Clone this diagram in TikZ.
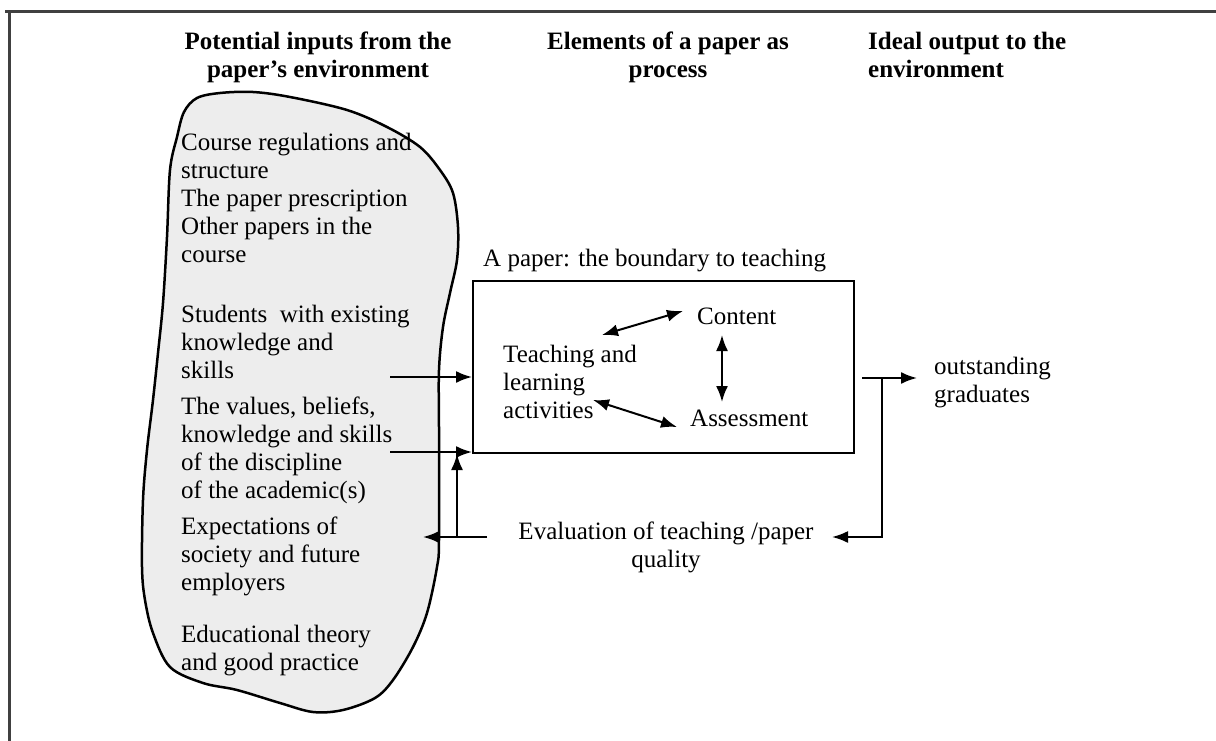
\documentclass[tikz,border=0pt]{standalone}
\usepackage{fontspec}
\setmainfont{Liberation Serif}
\usetikzlibrary{arrows.meta}
\begin{document}
\begin{tikzpicture}[x=1pt,y=-1pt,
  txt/.style={inner sep=0pt, font=\fontsize{25}{28}\selectfont, align=left, anchor=north west},
  head/.style={inner sep=0pt, font=\fontsize{25}{28}\selectfont\bfseries, anchor=north},
  link/.style={line width=2pt, -{Latex[length=16pt,width=12pt]}},
  both/.style={line width=2pt, {Latex[length=16pt,width=12pt]}-{Latex[length=16pt,width=12pt]}},
]
\useasboundingbox (0,0) rectangle (1216,741);

% frame lines
\draw[line width=3pt, black!75] (5,12) -- (1216,12);
\draw[line width=3pt, black!75] (9,12) -- (9,741);

% the environment cloud
\draw[line width=2.5pt, fill=black!7, line join=round] plot[smooth cycle, tension=0.55] coordinates {
  (253,92) (290,97) (347,110) (387,127) (420,147) (440,170) (453,193) (458,227)
  (457,260) (450,293) (443,327) (439,370) (439,430) (439,540) (437,567) (427,613)
  (413,647) (393,680) (375,698) (343,710) (313,712) (280,703) (237,690) (203,683)
  (170,667) (153,633) (145,600) (142,567) (143,500) (147,450) (153,400) (158,353)
  (163,303) (167,237) (170,170) (177,137) (184,112) (197,98) (220,93)};

% column headings
\node[head, align=center] (hin) at (318,32) {Potential inputs from the\\paper’s environment};
\node[head, align=center] (hproc) at (668,32) {Elements of a paper as\\process};
\node[head, align=left, anchor=north west] (hout) at (868,32) {Ideal output to the\\environment};

% inputs
\node[txt] (g1) at (181,133) {Course regulations and\\structure\\The paper prescription\\Other papers in the\\course};
\node[txt] (g2) at (181,305) {Students\ \ with existing\\knowledge and\\skills};
\node[txt] (g3) at (181,397) {The values, beliefs,\\knowledge and skills\\of the discipline\\of the academic(s)};
\node[txt] (g4) at (181,517) {Expectations of\\society and future\\employers};
\node[txt] (g5) at (181,625) {Educational theory\\and good practice};

% the paper
\node[draw, line width=2pt, minimum width=381pt, minimum height=172pt, inner sep=0pt] (paper) at (663.5,367) {};
\node[txt] (plabel) at (483,249) {A paper: the boundary to teaching};
\node[txt] (content) at (697,308) {Content};
\node[txt] (teach) at (503,345) {Teaching and\\learning\\activities};
\node[txt] (assess) at (690,410) {Assessment};

% output and evaluation
\node[txt] (grad) at (934,357) {outstanding\\graduates};
\node[txt, align=center, anchor=north] (eval) at (666,522) {Evaluation of teaching /paper\\quality};

% connector end points
\coordinate (in1) at (390,377);
\coordinate (in2) at (390,452);
\coordinate (out0) at (862,378);
\coordinate (outtip) at (917,378);
\coordinate (fbtop) at (882,378);
\coordinate (fbcorner) at (882,537);
\coordinate (fbtip) at (832,537);
\coordinate (evstart) at (487,537);
\coordinate (evtip) at (423,537);
\coordinate (upfoot) at (457,537);
\coordinate (tc1) at (602,335);
\coordinate (tc2) at (683,311);
\coordinate (ca1) at (722,335);
\coordinate (ca2) at (722,402);
\coordinate (ta1) at (593,400);
\coordinate (ta2) at (677,427);

% inputs into the paper
\draw[link] (in1) -- (in1 -| paper.west);
\draw[link] (in2) -- (in2 -| paper.west);
% output
\draw[link] (out0) -- (outtip);
% feedback loop
\draw[link] (fbtop) -- (fbcorner) -- (fbtip);
\draw[link] (evstart) -- (evtip);
\draw[link] (upfoot) -- (upfoot |- paper.south);
% relations inside the paper
\draw[both] (tc1) -- (tc2);
\draw[both] (ca1) -- (ca2);
\draw[both] (ta1) -- (ta2);
\end{tikzpicture}
\end{document}
